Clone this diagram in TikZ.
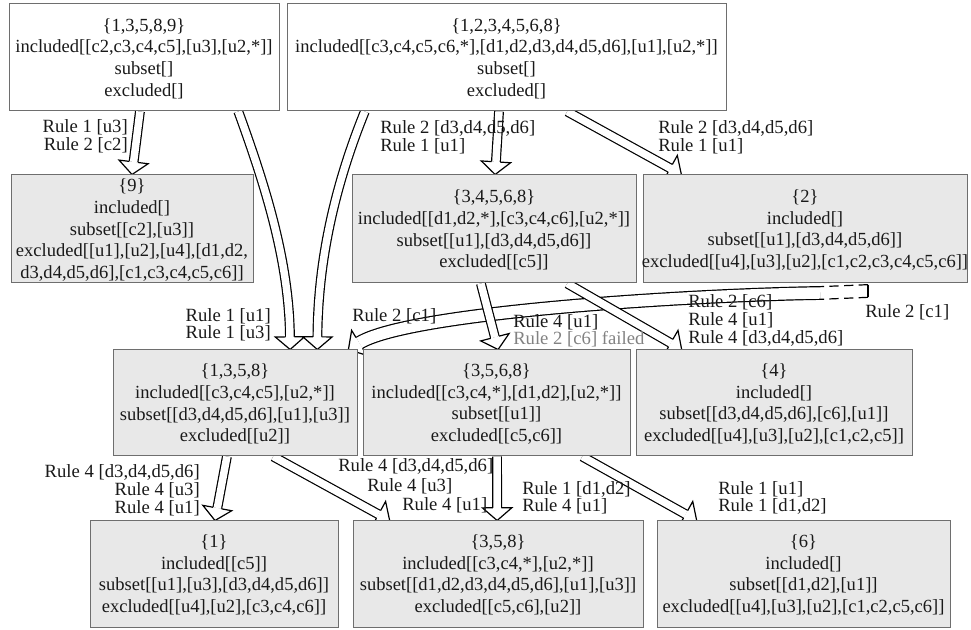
\documentclass[tikz,border=0pt]{standalone}
\usepackage{fontspec}
\setmainfont{Liberation Serif}
\usetikzlibrary{calc,fit,decorations.markings,backgrounds}
\definecolor{boxfill}{RGB}{232,232,232}
\definecolor{boxline}{RGB}{110,110,110}
\definecolor{failtext}{RGB}{130,130,130}
\definecolor{inktext}{RGB}{25,25,25}
\tikzset{
  box/.style={draw=boxline, line width=0.75pt, fill=boxfill, inner sep=0pt},
  wbox/.style={box, fill=white},
  boxtext/.style={inner sep=0pt, align=center, font=\fontsize{13.9}{16.3}\selectfont, text=inktext},
  lbl/.style={inner sep=0pt, font=\fontsize{14}{13.5}\selectfont, text=inktext},
  edgeline/.style={draw=black, line width=0.9pt, line join=miter},
  shaft/.style={edgeline, double=white, double distance=5.6pt, shorten >=9.5pt},
  wideshaft/.style={edgeline, double=white, double distance=8.6pt, shorten >=9.5pt},
  headmark/.style={decorate, decoration={markings, mark=at position 1 with {
     \fill[white] (0pt,0pt) -- (-9.5pt,11pt) -- (-9.5pt,-11pt) -- cycle;
     \draw[edgeline] (-9.5pt,#1) -- (-9.5pt,11pt) -- (0pt,0pt) -- (-9.5pt,-11pt) -- (-9.5pt,-#1);}}},
}
\newcommand\dblarrow[3][shaft]{%
  \draw[#1] #2;
  \path[headmark=#3] #2;}
\begin{document}
\begin{tikzpicture}[x=0.75pt,y=-0.75pt]
\useasboundingbox (0,0) rectangle (971,630);
% boxes
\node[wbox, fit={(9,4) (279,111)}] (A) {};
\node[wbox, fit={(287,4) (726,111)}] (B) {};
\node[box, fit={(11,175) (253,283)}] (C) {};
\node[box, fit={(352,175) (636,283)}] (D) {};
\node[box, fit={(643,175) (967,283)}] (E) {};
\node[box, fit={(113,350) (357,456)}] (F) {};
\node[box, fit={(363,350) (630,456)}] (G) {};
\node[box, fit={(636,350) (912,456)}] (H) {};
\node[box, fit={(90,521) (338,627)}] (I) {};
\node[box, fit={(353,521) (643,627)}] (J) {};
\node[box, fit={(657,521) (950,627)}] (K) {};
% box texts
\node[boxtext] (At) at ([yshift=-0.8pt]A.center) {\{1,3,5,8,9\}\\included[[c2,c3,c4,c5],[u3],[u2,*]]\\subset[]\\excluded[]};
\node[boxtext] (Bt) at ([yshift=-0.8pt]B.center) {\{1,2,3,4,5,6,8\}\\included[[c3,c4,c5,c6,*],[d1,d2,d3,d4,d5,d6],[u1],[u2,*]]\\subset[]\\excluded[]};
\node[boxtext] (Ct) at ([yshift=-0.8pt]C.center) {\{9\}\\included[]\\subset[[c2],[u3]]\\excluded[[u1],[u2],[u4],[d1,d2,\\d3,d4,d5,d6],[c1,c3,c4,c5,c6]]};
\node[boxtext] (Dt) at ([yshift=-0.8pt]D.center) {\{3,4,5,6,8\}\\included[[d1,d2,*],[c3,c4,c6],[u2,*]]\\subset[[u1],[d3,d4,d5,d6]]\\excluded[[c5]]};
\node[boxtext] (Et) at ([yshift=-0.8pt]E.center) {\{2\}\\included[]\\subset[[u1],[d3,d4,d5,d6]]\\excluded[[u4],[u3],[u2],[c1,c2,c3,c4,c5,c6]]};
\node[boxtext] (Ft) at ([yshift=-0.8pt]F.center) {\{1,3,5,8\}\\included[[c3,c4,c5],[u2,*]]\\subset[[d3,d4,d5,d6],[u1],[u3]]\\excluded[[u2]]};
\node[boxtext] (Gt) at ([yshift=-0.8pt]G.center) {\{3,5,6,8\}\\included[[c3,c4,*],[d1,d2],[u2,*]]\\subset[[u1]]\\excluded[[c5,c6]]};
\node[boxtext] (Ht) at ([yshift=-0.8pt]H.center) {\{4\}\\included[]\\subset[[d3,d4,d5,d6],[c6],[u1]]\\excluded[[u4],[u3],[u2],[c1,c2,c5]]};
\node[boxtext] (It) at ([yshift=-0.8pt]I.center) {\{1\}\\included[[c5]]\\subset[[u1],[u3],[d3,d4,d5,d6]]\\excluded[[u4],[u2],[c3,c4,c6]]};
\node[boxtext] (Jt) at ([yshift=-0.8pt]J.center) {\{3,5,8\}\\included[[c3,c4,*],[u2,*]]\\subset[[d1,d2,d3,d4,d5,d6],[u1],[u3]]\\excluded[[c5,c6],[u2]]};
\node[boxtext] (Kt) at ([yshift=-0.8pt]K.center) {\{6\}\\included[]\\subset[[d1,d2],[u1]]\\excluded[[u4],[u3],[u2],[c1,c2,c5,c6]]};
% edges
\begin{pgfonlayer}{background}
\coordinate (c1s) at (868,291);
\coordinate (c1m) at (820,293);
\draw[edgeline, dash pattern=on 7pt off 4pt] ([yshift=4.75pt]c1s) -- ([yshift=4.75pt]c1m);
\draw[edgeline, dash pattern=on 7pt off 4pt] ([yshift=-4.75pt]c1s) -- ([yshift=-4.75pt]c1m);
\draw[edgeline] ([yshift=4.75pt]c1s) -- ([yshift=-4.75pt]c1s);
\dblarrow{($(A.south west)!0.485!(A.south east)$) -- ($(C.north west)!0.5!(C.north east)$)}{3.25pt}
\dblarrow{($(A.south west)!0.848!(A.south east)$) .. controls (265,185) and (289,260) .. ($(F.north west)!0.725!(F.north east)$)}{3.25pt}
\dblarrow{($(B.south west)!0.178!(B.south east)$) .. controls (335,185) and (318,260) .. ($(F.north west)!0.836!(F.north east)$)}{3.25pt}
\dblarrow{($(B.south west)!0.483!(B.south east)$) -- ($(D.north west)!0.504!(D.north east)$)}{3.25pt}
\dblarrow{($(B.south west)!0.638!(B.south east)$) -- ($(E.north west)!0.12!(E.north east)$)}{3.25pt}
\dblarrow[wideshaft]{(c1m) .. controls (690,295) and (410,312) .. ($(F.north west)!0.963!(F.north east)$)}{4.75pt}
\dblarrow{($(D.south west)!0.454!(D.south east)$) -- ($(G.north west)!0.506!(G.north east)$)}{3.25pt}
\dblarrow{($(D.south west)!0.757!(D.south east)$) -- ($(H.north west)!0.167!(H.north east)$)}{3.25pt}
\dblarrow{($(F.south west)!0.467!(F.south east)$) -- ($(I.north west)!0.504!(I.north east)$)}{3.25pt}
\dblarrow{($(F.south west)!0.656!(F.south east)$) -- ($(J.north west)!0.128!(J.north east)$)}{3.25pt}
\dblarrow{($(G.south west)!0.502!(G.south east)$) -- ($(J.north west)!0.497!(J.north east)$)}{3.25pt}
\dblarrow{($(G.south west)!0.82!(G.south east)$) -- ($(K.north west)!0.137!(K.north east)$)}{3.25pt}
\end{pgfonlayer}
% labels
\node[lbl, anchor=east] (la1) at (128,127) {Rule 1 [u3]};
\node[lbl, anchor=east] (la2) at (128,145) {Rule 2 [c2]};
\node[lbl, anchor=west] (lb1) at (380,128) {Rule 2 [d3,d4,d5,d6]};
\node[lbl, anchor=west] (lb2) at (380,146) {Rule 1 [u1]};
\node[lbl, anchor=west] (lc1) at (658,128) {Rule 2 [d3,d4,d5,d6]};
\node[lbl, anchor=west] (lc2) at (658,146) {Rule 1 [u1]};
\node[lbl, anchor=east] (ld1) at (271,316) {Rule 1 [u1]};
\node[lbl, anchor=east] (ld2) at (271,333) {Rule 1 [u3]};
\node[lbl, anchor=west] (le) at (352,316) {Rule 2 [c1]};
\node[lbl, anchor=west] (lf1) at (513,322) {Rule 4 [u1]};
\node[lbl, anchor=west, text=failtext] (lf2) at (513,339) {Rule 2 [c6] failed};
\node[lbl, anchor=west] (lg1) at (688,302) {Rule 2 [c6]};
\node[lbl, anchor=west] (lg2) at (688,320) {Rule 4 [u1]};
\node[lbl, anchor=west] (lg3) at (688,338) {Rule 4 [d3,d4,d5,d6]};
\node[lbl, anchor=west] (lh) at (865,312) {Rule 2 [c1]};
\node[lbl, anchor=east] (li1) at (200,472) {Rule 4 [d3,d4,d5,d6]};
\node[lbl, anchor=east] (li2) at (200,490) {Rule 4 [u3]};
\node[lbl, anchor=east] (li3) at (200,508) {Rule 4 [u1]};
\node[lbl, anchor=west] (lj1) at (338,466) {Rule 4 [d3,d4,d5,d6]};
\node[lbl, anchor=west] (lj2) at (367,486) {Rule 4 [u3]};
\node[lbl, anchor=west] (lj3) at (402,505) {Rule 4 [u1]};
\node[lbl, anchor=west] (lk1) at (522,489) {Rule 1 [d1,d2]};
\node[lbl, anchor=west] (lk2) at (522,506) {Rule 4 [u1]};
\node[lbl, anchor=west] (ll1) at (718,489) {Rule 1 [u1]};
\node[lbl, anchor=west] (ll2) at (718,506) {Rule 1 [d1,d2]};
\end{tikzpicture}
\end{document}
